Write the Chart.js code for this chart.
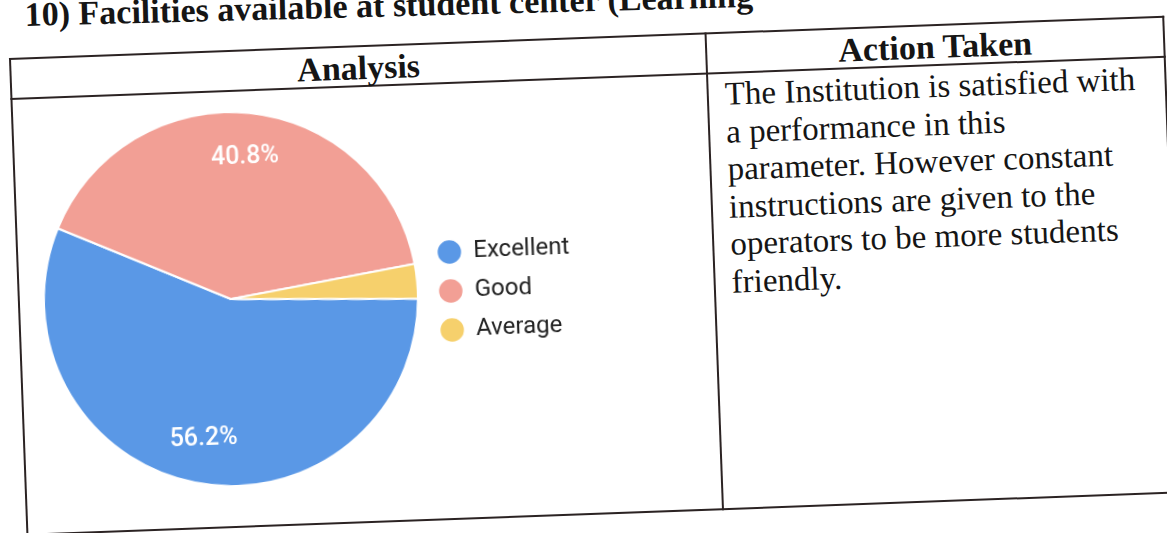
<!DOCTYPE html>
<html>
<head>
<meta charset="utf-8">
<script src="https://cdn.jsdelivr.net/npm/chart.js@4.4.0/dist/chart.umd.min.js"></script>
<style>
    html, body { margin: 0; padding: 0; background: #fff; width: 1167px; height: 533px; overflow: hidden; }
    .title {
        position: absolute; left: 25px; top: -5px;
        font: bold 34px "Liberation Serif", "Times New Roman", serif; line-height: 40px;
        white-space: nowrap; color: #151515;
        transform-origin: 0 31px; transform: rotate(-1.5deg);
    }
    .sheet {
        position: absolute; left: 10px; top: 59px; width: 1154px; height: 476px;
        transform-origin: 0 0; transform: rotate(-2.1deg);
    }
    .line { position: absolute; background: #2b2323; }
    .head {
        position: absolute; top: 3px; height: 40px; line-height: 40px; text-align: center;
        font: bold 34px "Liberation Serif", "Times New Roman", serif; color: #151515;
    }
    .body-text {
        position: absolute; left: 713px; top: 43px;
        font: 33px "Liberation Serif", "Times New Roman", serif; line-height: 37.5px;
        color: #151515; white-space: nowrap;
    }
    #chart-box { position: absolute; left: 19px; top: 60px; width: 596px; height: 376px; }
</style>
</head>
<body>
<div class="title">10) Facilities available at student center (Learning</div>
<div class="sheet">
    <div class="line" style="left:-1px;top:-1px;width:1156px;height:2px"></div>
    <div class="line" style="left:-1px;top:39px;width:1156px;height:2px"></div>
    <div class="line" style="left:-1px;top:475px;width:1156px;height:2px"></div>
    <div class="line" style="left:-1px;top:-1px;width:2px;height:478px"></div>
    <div class="line" style="left:695px;top:-1px;width:2px;height:478px"></div>
    <div class="line" style="left:1153px;top:-1px;width:2px;height:478px"></div>
    <div class="head" style="left:0;width:696px">Analysis</div>
    <div class="head" style="left:696px;width:458px">Action Taken</div>
    <div class="body-text">The Institution is satisfied with<br>a performance in this<br>parameter. However constant<br>instructions are given to the<br>operators to be more students<br>friendly.</div>
    <div id="chart-box"><canvas id="pie"></canvas></div>
</div>
<script>
    const categories = ["Excellent", "Good", "Average"];
    const percentages = [56.2, 40.8, 3.0];
    const sliceColors = ["#5a98e6", "#f29f95", "#f6d06c"];

    Chart.defaults.font.family = "Roboto, 'Liberation Sans', Arial, sans-serif";

    // keep the legend column a fixed width so the pie sits where it should
    const legendWidth = {
        id: "legendWidth",
        beforeLayout(chart) {
            const lg = chart.legend;
            if (lg && !lg._fixed) {
                const fit = lg.fit;
                lg.fit = function () { fit.call(this); this.width = 210; };
                lg._fixed = true;
            }
        }
    };

    // percentage labels inside the big slices
    const sliceLabels = {
        id: "sliceLabels",
        afterDatasetsDraw(chart) {
            const ctx = chart.ctx;
            const meta = chart.getDatasetMeta(0);
            const values = chart.data.datasets[0].data;
            const total = values.reduce((a, b) => a + b, 0);
            ctx.save();
            ctx.fillStyle = "#ffffff";
            ctx.font = "500 25px Roboto, 'Liberation Sans', Arial, sans-serif";
            ctx.textAlign = "center";
            ctx.textBaseline = "middle";
            meta.data.forEach((arc, i) => {
                const share = values[i] / total * 100;
                if (share < 5) return;
                const mid = (arc.startAngle + arc.endAngle) / 2;
                const r = arc.outerRadius * 0.76;
                ctx.fillText(share.toFixed(1) + "%", arc.x + Math.cos(mid) * r, arc.y + Math.sin(mid) * r);
            });
            ctx.restore();
        }
    };

    new Chart(document.getElementById("pie"), {
        type: "pie",
        data: {
            labels: categories,
            datasets: [{
                data: percentages,
                backgroundColor: sliceColors,
                borderColor: "#ffffff",
                borderWidth: 2,
                hoverOffset: 0
            }]
        },
        options: {
            responsive: true,
            maintainAspectRatio: false,
            animation: false,
            rotation: 92,
            layout: { padding: 0 },
            plugins: {
                legend: {
                    position: "right",
                    align: "center",
                    labels: {
                        usePointStyle: true,
                        pointStyle: "circle",
                        boxWidth: 24,
                        boxHeight: 18,
                        padding: 15,
                        color: "#222",
                        font: { size: 24 }
                    }
                },
                tooltip: { enabled: false }
            }
        },
        plugins: [legendWidth, sliceLabels]
    });
</script>
</body>
</html>
